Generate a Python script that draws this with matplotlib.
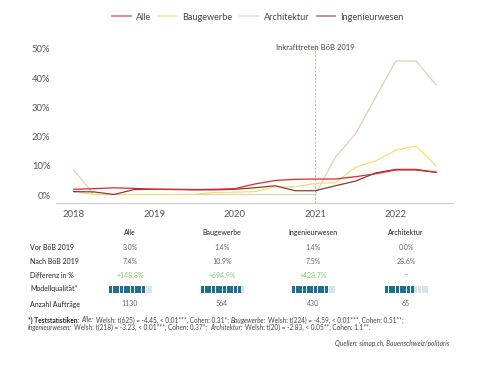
import numpy as np
import matplotlib
matplotlib.use("Agg")
import matplotlib.pyplot as plt
from matplotlib.lines import Line2D

plt.rcParams["font.family"] = ["Lato", "DejaVu Sans"]

W, H = 479, 365

# quarterly share (%) 2018 Q1 .. 2022 Q3
quarters = np.arange(2018.0, 2022.51, 0.25)
alle = [2.0, 2.2, 2.5, 2.3, 2.0, 2.0, 1.9, 2.0, 2.2, 3.8, 5.0, 5.4, 5.5, 5.5, 6.3, 7.3, 8.6, 8.6, 7.8]
baugewerbe = [1.2, 0.2, 0.2, 0.2, 0.2, 0.2, 0.3, 0.9, 1.0, 1.2, 2.8, 2.9, 4.0, 4.3, 9.5, 11.7, 15.4, 16.8, 10.0]
architektur = [8.6, 0.2, 0.2, 0.2, 0.2, 0.2, 0.2, 0.2, 0.2, 0.2, 0.2, 0.2, 0.2, 13.0, 21.0, 33.5, 45.9, 45.9, 37.7]
ingenieur = [1.2, 1.1, 0.2, 1.9, 2.0, 1.9, 1.8, 1.8, 2.0, 2.5, 3.2, 1.5, 1.5, 3.2, 4.8, 7.6, 8.8, 8.8, 7.8]

series_names = ["Alle", "Baugewerbe", "Architektur", "Ingenieurwesen"]
colors = {"Alle": "#e3242b", "Baugewerbe": "#f3de74", "Architektur": "#e2d1b6",
          "Ingenieurwesen": "#8a3a31"}

# table data
col_names = ["Alle", "Baugewerbe", "Ingenieurwesen", "Architektur"]
vor = ["3.0%", "1.4%", "1.4%", "0.0%"]
nach = ["7.4%", "10.9%", "7.5%", "28.6%"]
diff = ["+148.8%", "+694.9%", "+428.7%", "-"]
quality = [10, 11, 10, 8]
quality_max = 12
auftraege = ["1130", "564", "430", "65"]

fig = plt.figure(figsize=(W / 100, H / 100), dpi=100, facecolor="white")


def fx(x):
    return x / W


def fy(y):
    return 1 - y / H


ax = fig.add_axes([fx(56), fy(203), fx(453) - fx(56), fy(44) - fy(203)])
ax.plot(quarters, architektur, color=colors["Architektur"], lw=0.9, zorder=2)
ax.plot(quarters, baugewerbe, color=colors["Baugewerbe"], lw=0.9, zorder=3)
ax.plot(quarters, ingenieur, color=colors["Ingenieurwesen"], lw=0.9, zorder=4)
ax.plot(quarters, alle, color=colors["Alle"], lw=0.9, zorder=5)

ax.set_xlim(2017.78, 2022.71)
ax.set_ylim(-2.7, 51.7)
ax.set_xticks([2018, 2019, 2020, 2021, 2022])
ax.set_yticks([0, 10, 20, 30, 40, 50])
ax.set_yticklabels([f"{v}%" for v in range(0, 51, 10)])
ax.tick_params(length=0, labelsize=6.8, colors="#555555", pad=4)
ax.tick_params(axis="x", pad=5)
for s in ["top", "right", "left"]:
    ax.spines[s].set_visible(False)
ax.spines["bottom"].set_color("#cccccc")
ax.spines["bottom"].set_linewidth(0.8)

ax.axvline(2021, color="#ec928c", lw=0.6, ls=(0, (2.5, 2)), zorder=1)
ax.text(2021, 50.4, "Inkrafttreten BöB 2019", ha="center", va="center",
        fontsize=5.5, color="#444444", zorder=6)

handles = [Line2D([], [], color=colors[n], lw=1.3, alpha=0.6) for n in series_names]
fig.legend(handles, series_names, loc="center", bbox_to_anchor=(fx(258), fy(17)),
           ncol=4, frameon=False, fontsize=6.6, handlelength=2.0, handletextpad=0.6,
           columnspacing=0.8, labelcolor="#444444")

# table
col_x = [130, 222, 313, 406]
row_y = {"head": 232, "vor": 247, "nach": 261, "diff": 275, "mq": 289, "anz": 304}
label_kw = dict(fontsize=5, color="#222222", va="center", ha="left")
val_kw = dict(fontsize=5, color="#666666", va="center", ha="center")

for cx, name in zip(col_x, col_names):
    fig.text(fx(cx), fy(row_y["head"]), name, fontsize=5, color="#222222",
             va="center", ha="center")

fig.text(fx(30), fy(row_y["vor"]), "Vor BöB 2019", **label_kw)
fig.text(fx(30), fy(row_y["nach"]), "Nach BöB 2019", **label_kw)
fig.text(fx(30), fy(row_y["diff"]), "Differenz in %", **label_kw)
fig.text(fx(30), fy(row_y["mq"]), "Modellqualität*", **label_kw)
fig.text(fx(30), fy(row_y["anz"]), "Anzahl Aufträge", **label_kw)

for i, cx in enumerate(col_x):
    fig.text(fx(cx), fy(row_y["vor"]), vor[i], **val_kw)
    fig.text(fx(cx), fy(row_y["nach"]), nach[i], **val_kw)
    fig.text(fx(cx), fy(row_y["diff"]), diff[i], fontsize=5,
             color="#8cc97a" if diff[i] != "-" else "#666666", va="center", ha="center")
    fig.text(fx(cx), fy(row_y["anz"]), auftraege[i], **val_kw)

    # model quality bar
    bw, bh = 44, 7
    bax = fig.add_axes([fx(cx - 21), fy(row_y["mq"] + bh / 2), fx(bw), bh / H])
    segs = np.arange(quality_max)
    seg_cols = ["#1f6f91" if k < quality[i] else "#dbe1e8" for k in segs]
    bax.bar(segs, np.ones(quality_max), width=0.78, color=seg_cols, align="edge")
    bax.set_xlim(0, quality_max)
    bax.set_ylim(0, 1)
    bax.axis("off")

line_ax = fig.add_axes([fx(28), fy(312), fx(452) - fx(28), 0.001])
line_ax.axhline(0.5, color="#dddddd", lw=0.8)
line_ax.axis("off")

# footnote with mixed styles
fig.canvas.draw()
renderer = fig.canvas.get_renderer()
FOOT = 4.7


def text_width(s, **kw):
    t = fig.text(0, 0, s, fontsize=FOOT, **kw)
    w = t.get_window_extent(renderer).width
    t.remove()
    return w


space_w = 1.4 * (text_width("x x") - text_width("xx"))


def rich_line(x0, y0, parts):
    x = x0
    for txt, style in parts:
        kw = dict(color="#444444")
        if style == "b":
            kw = dict(fontweight="bold", color="#222222")
        elif style == "i":
            kw["fontstyle"] = "italic"
        core = txt.strip(" ")
        lead = len(txt) - len(txt.lstrip(" "))
        trail = len(txt) - len(txt.rstrip(" "))
        x += lead * space_w
        fig.text(fx(x), y0, core, fontsize=FOOT, va="center", ha="left", **kw)
        x += text_width(core, **kw) + trail * space_w


rich_line(28, fy(320), [
    ("*) Teststatistiken: ", "b"), ("Alle:", "i"),
    (" Welsh: t(625) = -4.45, < 0.01***, Cohen: 0.31*; ", "r"),
    ("Baugewerbe:", "i"), (" Welsh: t(224) = -4.59, < 0.01***, Cohen: 0.51**;", "r")])
rich_line(28, fy(327.5), [
    ("Ingenieurwesen:", "i"), (" Welsh: t(218) = -3.23, < 0.01***, Cohen: 0.37*; ", "r"),
    ("Architektur:", "i"), (" Welsh: t(20) = -2.83, < 0.05**, Cohen: 1.1**.", "r")])

fig.text(fx(449), fy(343.5), "Quellen: simap.ch, Bauenschweiz/politaris", fontsize=4.7,
         fontstyle="italic", color="#444444", ha="right", va="center")

fig.savefig("out.png", dpi=100, facecolor="white")
